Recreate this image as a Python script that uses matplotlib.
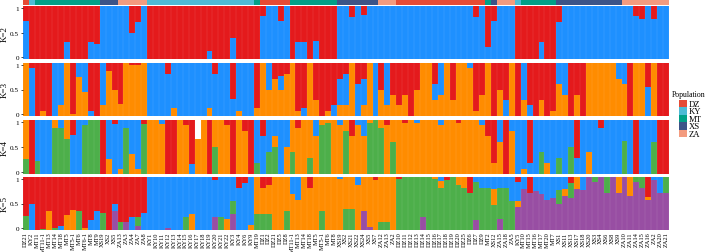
import re
import matplotlib
matplotlib.use('Agg')
import matplotlib.pyplot as plt
from matplotlib.patches import Rectangle
import numpy as np

plt.rcParams['font.family'] = ['Liberation Serif', 'DejaVu Serif']

# ---------------- sample labels (x order) ----------------
labels = [
    'DZ21', 'KY2',
    'MT11', 'MT11-1', 'MT13', 'MT14', 'MT18', 'MT5', 'MT5-1', 'MT6', 'MT6-1', 'MT8', 'MT9',
    'XS19', 'XS2', 'XS5',
    'ZA13', 'ZA3', 'ZA4', 'ZA7', 'ZA8',
    'KY1', 'KY10', 'KY11', 'KY12', 'KY13', 'KY14', 'KY15', 'KY16', 'KY17', 'KY18',
    'KY19', 'KY20', 'KY21', 'KY22', 'KY3', 'KY4', 'KY6', 'KY9',
    'MT19',
    'DZ1', 'DZ2', 'DZ21', 'DZ5', 'DZ8',
    'MT11-1', 'MT13', 'MT14', 'MT18', 'MT5', 'MT5-1', 'MT6', 'MT8',
    'XS19', 'XS2', 'XS21', 'XS22', 'XS24', 'XS5', 'XS7',
    'ZA12', 'ZA13', 'ZA2',
    'DZ10', 'DZ11', 'DZ12', 'DZ13', 'DZ14', 'DZ15', 'DZ16', 'DZ17', 'DZ18', 'DZ19',
    'DZ20', 'DZ25', 'DZ6', 'DZ7', 'DZ9',
    'MT2', 'XS12', 'ZA15', 'ZA18', 'ZA5', 'KY5',
    'MT10', 'MT15', 'MT16', 'MT17', 'MT20', 'MT7',
    'XS1', 'XS11', 'XS13', 'XS17', 'XS18', 'XS20', 'XS3', 'XS4', 'XS6', 'XS8', 'XS9',
    'ZA10', 'ZA11', 'ZA14', 'ZA15', 'ZA16', 'ZA2', 'ZA20', 'ZA21',
]

pop_names = ['DZ', 'KY', 'MT', 'XS', 'ZA']
pop_colors = ['#E64B35', '#4DBBD5', '#00A087', '#3C5488', '#F39B7F']

cluster_colors = {
    'purple': '#984EA3',
    'green': '#4DAF4A',
    'orange': '#FF8C00',
    'blue': '#1E90FF',
    'red': '#E41A1C',
}
stack_order = ['purple', 'green', 'orange', 'blue', 'red']

# ---------------- K = 2 ----------------
k2_blue = [0.73, 0, 0, 0, 0, 0, 0, 0.33, 0, 0,
           0, 0.33, 0.28, 1, 1, 1, 1, 1, 0.5, 0.7,
           1, 0, 0, 0, 0, 0, 0, 0, 0, 0,
           0, 0.15, 0, 0, 0, 0.39, 0, 0, 0, 0,
           0.82, 1, 1, 0.73, 1, 0, 0.32, 0.32, 0, 0.35,
           0, 0, 0, 1, 1, 0.79, 1, 0.84, 1, 1,
           1, 1, 1, 1, 1, 1, 1, 1, 1, 1,
           1, 1, 1, 1, 1, 1, 0.79, 1, 0.22, 0.73,
           1, 1, 1, 0, 0, 0, 0, 0.32, 0, 0,
           0.71, 1, 1, 1, 1, 1, 1, 1, 1, 1,
           1, 1, 1, 0.82, 0.76, 1, 0.75, 1, 1]
k2_red = [0.27, 1, 1, 1, 1, 1, 1, 0.67, 1, 1,
          1, 0.67, 0.72, 0, 0, 0, 0, 0, 0.5, 0.3,
          0, 1, 1, 1, 1, 1, 1, 1, 1, 1,
          1, 0.85, 1, 1, 1, 0.61, 1, 1, 1, 1,
          0.18, 0, 0, 0.27, 0, 1, 0.68, 0.68, 1, 0.65,
          1, 1, 1, 0, 0, 0.21, 0, 0.16, 0, 0,
          0, 0, 0, 0, 0, 0, 0, 0, 0, 0,
          0, 0, 0, 0, 0, 0, 0.21, 0, 0.78, 0.27,
          0, 0, 0, 1, 1, 1, 1, 0.68, 1, 1,
          0.29, 0, 0, 0, 0, 0, 0, 0, 0, 0,
          0, 0, 0, 0.18, 0.24, 0, 0.25, 0, 0]

# ---------------- K = 3 ----------------
k3_orange = [1, 0, 0, 0.1, 0, 0, 0.2, 1, 0.03, 0.73,
             0.45, 0, 0, 0.2, 0.85, 0.5, 0.22, 1, 0.97, 0.97,
             1, 0, 0, 0, 0, 0.15, 0, 0, 0, 0,
             0, 0.15, 0, 0, 0, 0, 0.1, 0, 0, 0.15,
             1, 0.5, 0.7, 0.5, 0.8, 1, 0.1, 0, 1, 0.3,
             0, 0.1, 0, 0.2, 0.2, 1, 0, 0.2, 1, 0,
             0.5, 0.2, 0.4, 0.2, 0.4, 0, 0.5, 1, 1, 0.3,
             0.4, 1, 0.3, 1, 1, 0.9, 0.1, 0.4, 1, 0,
             0.5, 0, 1, 0, 0.3, 0, 0, 0.3, 0, 0.1,
             0.6, 0.4, 0, 0.4, 0, 1, 1, 1, 1, 1,
             0.7, 0.6, 0, 1, 1, 0, 1, 0, 0]
k3_blue = [0, 0.9, 0, 0, 0, 1, 0.8, 0, 0, 0.27,
           0.55, 0.1, 0, 0.8, 0, 0, 0, 0, 0, 0,
           0, 1, 1, 1, 0.8, 0.85, 1, 1, 1, 1,
           1, 0.85, 0.8, 1, 1, 0.32, 0.9, 1, 1, 0,
           0, 0.5, 0, 0.25, 0, 0, 0, 0.15, 0, 0,
           0, 0, 0.2, 0.5, 0.6, 0, 0.6, 0.5, 0, 1,
           0, 0.8, 0, 0, 0, 0, 0, 0, 0, 0.3,
           0.6, 0, 0, 0, 0, 0.1, 0, 0, 0, 0,
           0, 0.3, 0, 0, 0.7, 0.2, 0, 0, 0, 0,
           0.4, 0.6, 0, 0, 0, 0, 0, 0, 0, 0,
           0.3, 0.4, 0, 0, 0, 0.55, 0, 0, 0]
k3_red = [0, 0.1, 1, 0.9, 1, 0, 0, 0, 0.97, 0,
          0, 0.9, 1, 0, 0.15, 0.5, 0.78, 0, 0.03, 0.03,
          0, 0, 0, 0, 0.2, 0, 0, 0, 0, 0,
          0, 0, 0.2, 0, 0, 0.68, 0, 0, 0, 0.85,
          0, 0, 0.3, 0.25, 0.2, 0, 0.9, 0.85, 0, 0.7,
          1, 0.9, 0.8, 0.3, 0.2, 0, 0.4, 0.3, 0, 0,
          0.5, 0, 0.6, 0.8, 0.6, 1, 0.5, 0, 0, 0.4,
          0, 0, 0.7, 0, 0, 0, 0.9, 0.6, 0, 1,
          0.5, 0.7, 0, 1, 0, 0.8, 1, 0.7, 1, 0.9,
          0, 0, 1, 0.6, 1, 0, 0, 0, 0, 0,
          0, 0, 1, 0, 0, 0.45, 0, 1, 1]

# ---------------- K = 4 ----------------
k4_green = [0.27, 0, 0.25, 0, 0, 0.85, 0.85, 0.65, 0, 0,
            0.9, 1, 1, 0, 0, 0, 0, 0.85, 0, 0,
            0.92, 0, 0, 0, 0, 0, 0, 0, 0, 0,
            0, 0, 0.5, 0, 0, 0, 0, 0, 0, 0.2,
            0, 0.4, 0.5, 0, 0, 0.4, 0, 0, 0.3, 0,
            0.9, 0.95, 0, 0, 0.8, 0, 0, 0, 0.95, 1,
            0.85, 0, 0.6, 0, 0, 0, 0, 0, 0, 0,
            0, 0, 0, 0, 0, 0, 0, 0, 0, 0,
            0, 0, 0, 0, 0, 0, 0, 0.4, 0, 0,
            0.3, 0, 0.5, 0, 0, 0, 0, 0, 0, 0,
            0, 0.62, 0, 0, 0, 0, 0.6, 0, 0]
k4_orange = [0.73, 0, 0, 0, 0, 0.15, 0, 0.35, 0, 0,
             0, 0, 0, 0, 0.27, 0, 0.1, 0, 0.37, 0.1,
             0, 1, 1, 0.92, 0, 0, 1, 0.9, 0, 0.65,
             1, 0, 0.5, 1, 0.9, 0, 1, 0.8, 0, 0,
             0, 0, 0.2, 0, 0.5, 0.6, 0.85, 1, 0.7, 0.7,
             0.1, 0.05, 1, 0.9, 0.2, 0.7, 0.9, 0.7, 0.05, 0,
             0.15, 0.9, 0.4, 1, 0.95, 1, 0.95, 1, 1, 1,
             0.9, 1, 1, 0.95, 1, 1, 1, 0.9, 0.7, 0.2,
             0.6, 0, 0.8, 0, 0.1, 0, 0, 0, 0.2, 0,
             0, 0, 0, 0, 0, 0.4, 0, 0, 0, 0,
             0, 0, 0, 0, 0, 0, 0, 0, 0]
k4_blue = [0, 0, 0.75, 1, 1, 0, 0.15, 0, 0.73, 1,
           0.1, 0, 0, 0, 0.73, 0.92, 0.9, 0.15, 0.63, 0.9,
           0, 0, 0, 0.08, 0, 0, 0, 0, 0.18, 0,
           0, 0, 0, 0, 0, 0, 0, 0, 0, 0.8,
           0.7, 0.6, 0.3, 1, 0.5, 0, 0, 0, 0, 0.3,
           0, 0, 0, 0.1, 0, 0, 0.1, 0.3, 0, 0,
           0, 0, 0, 0, 0, 0, 0.05, 0, 0, 0,
           0.1, 0, 0, 0, 0, 0, 0, 0.1, 0, 0,
           0.4, 0, 0.2, 1, 0.9, 0.2, 1, 0.6, 0.8, 1,
           0.7, 1, 0.5, 0.3, 1, 0.6, 1, 0.85, 1, 1,
           1, 0.38, 1, 0, 1, 1, 0.4, 0, 0]
k4_red = [0, 1, 0, 0, 0, 0, 0, 0, 0.27, 0,
          0, 0, 0, 1, 0, 0.08, 0, 0, 0, 0,
          0.08, 0, 0, 0, 1, 1, 0, 0.1, 0.82, 0,
          0, 1, 0, 0, 0.1, 1, 0, 0.2, 1, 0,
          0.3, 0, 0, 0, 0, 0, 0.15, 0, 0, 0,
          0, 0, 0, 0, 0, 0.3, 0, 0, 0, 0,
          0, 0.1, 0, 0, 0.05, 0, 0, 0, 0, 0,
          0, 0, 0, 0.05, 0, 0, 0, 0, 0.3, 0.8,
          0, 1, 0, 0, 0, 0.8, 0, 0, 0, 0,
          0, 0, 0, 0.7, 0, 0, 0, 0.15, 0, 0,
          0, 0, 0, 1, 0, 0, 0, 1, 1]

# ---------------- K = 5 ----------------
k5_purple = [0, 0, 0, 0, 0, 0, 0, 0, 0, 0,
             0, 0, 0, 0, 0, 0.35, 0, 0.15, 0, 0.08,
             0, 0, 0, 0, 0.03, 0, 0, 0, 0, 0,
             0, 0, 0.25, 0, 0, 0.3, 0, 0, 0, 0,
             0, 0, 0, 0, 0, 0, 0, 0, 0, 0,
             0, 0, 0, 0, 0, 0, 0, 0.35, 0.05, 0,
             0, 0, 0, 0, 0, 0, 0, 0.25, 0, 0,
             0, 0, 0, 0, 0, 0, 0.18, 0, 0, 0,
             0.2, 0, 0, 0.43, 0.78, 0.7, 0.73, 0.67, 0.57, 0.6,
             0.5, 0.65, 0.6, 0.78, 0.75, 1, 0.9, 1, 0.7, 1,
             0.7, 1, 0.65, 0.9, 0.8, 0.57, 0.95, 0.7, 0.7]
k5_green = [0.27, 0, 0, 0.02, 0, 0.03, 0, 0, 0, 0.35,
            0, 0, 0, 0.32, 0, 0, 0.15, 0, 0, 0.17,
            0, 0, 0, 0, 0, 0, 0, 0.25, 0, 0,
            0, 0, 0, 0.25, 0, 0.25, 0, 0, 0, 0.3,
            0.3, 0.3, 0, 0, 0.35, 0, 0, 0, 0, 0,
            0.35, 0, 0, 0, 0.4, 0.4, 0, 0, 0, 0,
            0.15, 0.15, 0, 0.96, 1, 1, 1, 0.75, 1, 0.97,
            0.8, 0.95, 1, 0.85, 0.8, 0.7, 0.72, 0.8, 0.8, 0.47,
            0.6, 0.8, 0.55, 0, 0, 0, 0, 0, 0, 0,
            0.25, 0, 0.28, 0, 0, 0, 0.1, 0, 0.3, 0,
            0, 0, 0, 0.1, 0.2, 0, 0, 0, 0.3]
k5_orange = [0, 0, 0, 0, 0.35, 0, 0, 0.28, 0.38, 0,
             0.03, 0, 0, 0, 0, 0, 0, 0, 0, 0,
             0, 0, 0, 0, 0, 0, 0, 0, 0.3, 0,
             0, 0, 0, 0, 0.2, 0, 0, 0, 0.1, 0.7,
             0.5, 0.55, 1, 1, 0.65, 0.68, 0.56, 1, 0.8, 1,
             0.65, 1, 1, 0.97, 0.6, 0.6, 0.85, 0.65, 0.95, 0.95,
             0.85, 0.85, 1, 0, 0, 0, 0, 0, 0, 0.03,
             0.12, 0, 0, 0.15, 0.2, 0, 0, 0, 0, 0.3,
             0, 0, 0, 0.12, 0, 0, 0, 0, 0, 0,
             0, 0.12, 0, 0.22, 0, 0, 0, 0, 0, 0,
             0.3, 0, 0.35, 0, 0, 0.05, 0, 0, 0]
k5_blue = [0, 0.5, 0, 0, 0, 0, 0.08, 0, 0, 0,
           0, 0.18, 0.35, 0, 0, 0.15, 0, 0, 0.25, 0,
           0.33, 1, 1, 1, 0.97, 1, 1, 0.75, 0.7, 1,
           1, 1, 0.7, 0.75, 0.8, 0.45, 0.8, 0.88, 0.9, 0,
           0, 0, 0, 0, 0, 0.32, 0.44, 0, 0, 0,
           0, 0, 0, 0.03, 0, 0, 0.15, 0, 0, 0,
           0, 0, 0, 0, 0, 0, 0, 0, 0, 0,
           0.08, 0, 0, 0, 0, 0, 0.1, 0.2, 0.2, 0.23,
           0.2, 0.2, 0.45, 0.35, 0.22, 0, 0.27, 0.33, 0.43, 0.4,
           0.25, 0.23, 0, 0, 0.25, 0, 0, 0, 0, 0,
           0, 0, 0, 0, 0, 0, 0.05, 0.3, 0]
k5_red = [0.73, 0.5, 1, 0.98, 0.65, 0.97, 0.92, 0.72, 0.62, 0.65,
          0.97, 0.82, 0.65, 0.68, 1, 0.5, 0.85, 0.85, 0.75, 0.75,
          0.67, 0, 0, 0, 0, 0, 0, 0, 0, 0,
          0, 0, 0.05, 0, 0, 0, 0.2, 0.12, 0, 0,
          0.2, 0.15, 0, 0, 0, 0, 0, 0, 0.2, 0,
          0, 0, 0, 0, 0, 0, 0, 0, 0, 0.05,
          0, 0, 0, 0.04, 0, 0, 0, 0, 0, 0,
          0, 0.05, 0, 0, 0, 0.3, 0, 0, 0, 0,
          0, 0, 0, 0.1, 0, 0.3, 0, 0, 0, 0,
          0, 0, 0.12, 0, 0, 0, 0, 0, 0, 0,
          0, 0, 0, 0, 0, 0.38, 0, 0, 0]

panels = [
    ('K=2', {'blue': k2_blue, 'red': k2_red}),
    ('K=3', {'orange': k3_orange, 'blue': k3_blue, 'red': k3_red}),
    ('K=4', {'green': k4_green, 'orange': k4_orange, 'blue': k4_blue, 'red': k4_red}),
    ('K=5', {'purple': k5_purple, 'green': k5_green, 'orange': k5_orange,
             'blue': k5_blue, 'red': k5_red}),
]

# ---------------- figure ----------------
W, H = 709, 253
fig = plt.figure(figsize=(W / 100, H / 100), dpi=100)

N = len(labels)
x = np.arange(N)
left_px, right_px = 22.7, 669.0
L = left_px / W
Wd = (right_px - left_px) / W

def fy(top_px, bot_px):
    return [L, 1 - bot_px / H, Wd, (bot_px - top_px) / H]

# population strip
ax_pop = fig.add_axes(fy(0.5, 6.0))
pops = [re.match(r'[A-Z]+', s).group() for s in labels]
ax_pop.bar(x, np.ones(N), width=1.0, color=[pop_colors[pop_names.index(p)] for p in pops],
           linewidth=0)
ax_pop.set_xlim(-0.5, N - 0.5)
ax_pop.set_ylim(0, 1)
ax_pop.axis('off')

panel_px = [(7.3, 60.0), (64.0, 117.0), (121.0, 175.0), (178.0, 231.0)]

for i, ((name, comp), (t, b)) in enumerate(zip(panels, panel_px)):
    ax = fig.add_axes(fy(t, b))
    bottom = np.zeros(N)
    for c in stack_order:
        if c in comp:
            v = np.array(comp[c], dtype=float)
            ax.bar(x, v, bottom=bottom, width=1.0, color=cluster_colors[c], linewidth=0)
            bottom += v
    ax.vlines(np.arange(N + 1) - 0.5, 0, 1, color='white', lw=0.25, alpha=0.25)
    ax.set_xlim(-0.5, N - 0.5)
    ax.set_ylim(0, 1)
    for s in ax.spines.values():
        s.set_visible(False)
    ax.set_yticks([0.035, 0.5, 0.965])
    ax.set_yticklabels(['0', '0.5', '1'], fontsize=5.2)
    ax.tick_params(axis='y', length=1.5, width=0.5, pad=1)
    ax.set_ylabel(name, fontsize=6.5, labelpad=1)
    if i == 3:
        ax.set_xticks(x)
        ax.set_xticklabels(labels, rotation=90, fontsize=4.6)
        ax.tick_params(axis='x', length=0, pad=1)
    else:
        ax.set_xticks([])

# legend
fig.text(672 / W, 1 - 95 / H, 'Population', fontsize=5.6, va='center', ha='left')
sq_h = 7.5
for j, (nm, col) in enumerate(zip(pop_names, pop_colors)):
    top = 100.8 + j * sq_h
    fig.patches.append(Rectangle((679 / W, 1 - (top + sq_h) / H), 8 / W, sq_h / H,
                                 transform=fig.transFigure, color=col, linewidth=0))
    fig.text(689 / W, 1 - (top + sq_h / 2) / H, nm, fontsize=6.2, va='center', ha='left')

fig.savefig('out.png', dpi=100)
